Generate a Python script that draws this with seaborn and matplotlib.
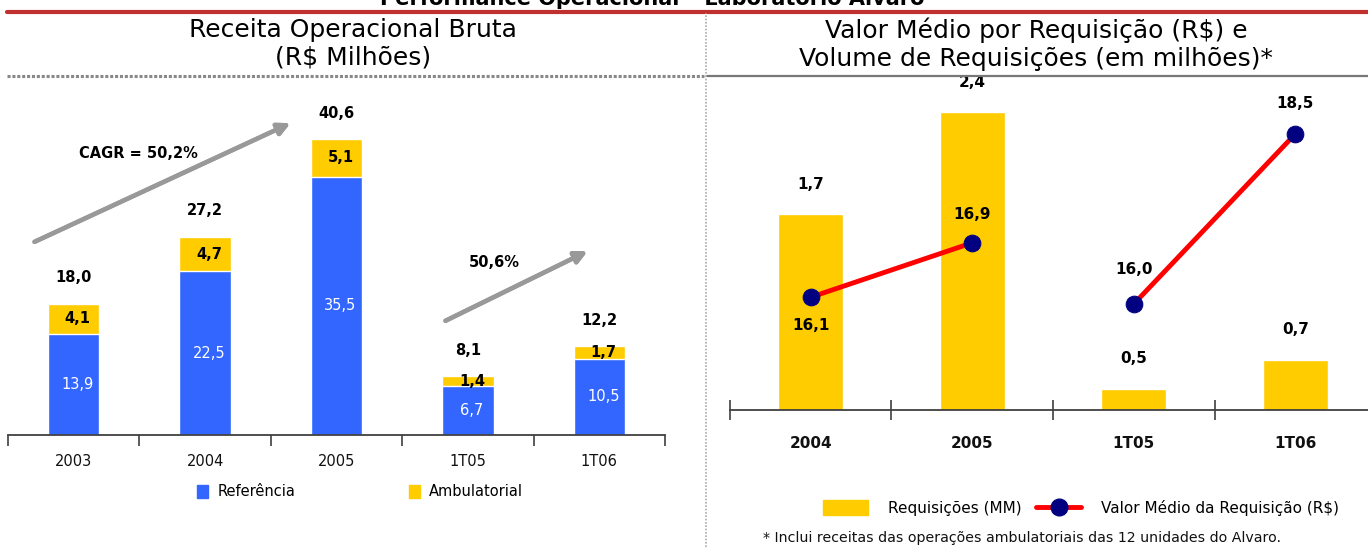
import matplotlib
matplotlib.use("Agg")
import matplotlib.pyplot as plt
import seaborn as sns
import pandas as pd
import numpy as np
from matplotlib.patches import Patch
from matplotlib.lines import Line2D

sns.set_style("white")
plt.rcParams["font.family"] = ["DejaVu Sans"]
plt.rcParams["text.color"] = "black"

# dados - receita operacional bruta (R$ milhoes)
periodos = ["2003", "2004", "2005", "1T05", "1T06"]
referencia = [13.9, 22.5, 35.5, 6.7, 10.5]
ambulatorial = [4.1, 4.7, 5.1, 1.4, 1.7]

# dados - requisicoes e valor medio
periodos_req = ["2004", "2005", "1T05", "1T06"]
requisicoes = [1.7, 2.4, 0.5, 0.7]
valor_medio = [16.1, 16.9, 16.0, 18.5]
segmento = ["ano", "ano", "tri", "tri"]

AZUL = "#3366ff"
AMARELO = "#ffcc00"
W, H = 1368, 547


def fx(px):
    return px / W


def fy(py):
    return 1 - py / H


def br(v):
    return f"{v:.1f}".replace(".", ",")


fig = plt.figure(figsize=(W / 100, H / 100), dpi=100)

# ---- painel esquerdo: barras empilhadas
df = pd.DataFrame({"periodo": periodos, "ref": referencia, "amb": ambulatorial})
df["total"] = df["ref"] + df["amb"]

ax = fig.add_axes([fx(8), fy(435), fx(657), 355 / H])
sns.barplot(data=df, x="periodo", y="total", color=AMARELO, width=0.39,
            saturation=1, ax=ax)
sns.barplot(data=df, x="periodo", y="ref", color=AZUL, width=0.39,
            saturation=1, ax=ax)
ax.set_xlim(-0.5, len(periodos) - 0.5)
ax.set_ylim(0, 355 / 7.28)
ax.set_xlabel("")
ax.set_ylabel("")
ax.set_yticks([])
for s in ["top", "left", "right"]:
    ax.spines[s].set_visible(False)
ax.spines["bottom"].set_color("#404040")
ax.spines["bottom"].set_linewidth(1.3)
ax.set_xticks(np.arange(len(periodos) + 1) - 0.5, minor=True)
ax.tick_params(axis="x", which="minor", length=8, width=1.2, color="#404040",
               direction="out", bottom=True)
ax.tick_params(axis="x", which="major", length=0, pad=14, labelsize=10.5,
               labelcolor="#111111")

for i, row in df.iterrows():
    ax.text(i + 0.03, row["ref"] / 2, br(row["ref"]), ha="center", va="center",
            color="white", fontsize=10.5)
    ax.text(i + 0.03, row["ref"] + row["amb"] / 2, br(row["amb"]), ha="center",
            va="center", color="black", fontsize=10.5, fontweight="bold")
    ax.annotate(br(row["total"]), (i, row["total"]), xytext=(0, 26),
                textcoords="offset pixels", ha="center", va="center",
                fontsize=10.5, fontweight="bold")

# setas de crescimento
seta = dict(arrowstyle="-|>", color="#999999", lw=3.2, mutation_scale=18)
fig.add_artist(plt.annotate("", xy=(fx(293), fy(122)), xytext=(fx(32), fy(243)),
                            xycoords="figure fraction", arrowprops=seta))
fig.add_artist(plt.annotate("", xy=(fx(590), fy(250)), xytext=(fx(443), fy(322)),
                            xycoords="figure fraction", arrowprops=seta))
fig.text(fx(138), fy(153), "CAGR = 50,2%", ha="center", va="center",
         fontsize=10.5, fontweight="bold")
fig.text(fx(494), fy(263), "50,6%", ha="center", va="center",
         fontsize=10.5, fontweight="bold")

fig.legend(handles=[Patch(color=AZUL), Patch(color=AMARELO)],
           labels=["Referência", "Ambulatorial"], ncol=2, loc="center",
           bbox_to_anchor=(fx(360), fy(492)), frameon=False, fontsize=10.5,
           handlelength=0.8, handleheight=1.0, handletextpad=0.6,
           columnspacing=7.8)

# ---- painel direito: requisicoes + valor medio
dr = pd.DataFrame({"periodo": periodos_req, "req": requisicoes,
                   "valor": valor_medio, "seg": segmento})
dr["pos"] = np.arange(len(dr))

axr = fig.add_axes([fx(730), fy(410), fx(646), 330 / H])
sns.barplot(data=dr, x="periodo", y="req", color=AMARELO, width=0.4,
            saturation=1, ax=axr)
axr.set_xlim(-0.5, len(periodos_req) - 0.5)
axr.set_ylim(0.355, 0.355 + 330 / 145.7)
axr.set_xlabel("")
axr.set_ylabel("")
axr.set_yticks([])
for s in ["top", "left", "right"]:
    axr.spines[s].set_visible(False)
axr.spines["bottom"].set_color("#404040")
axr.spines["bottom"].set_linewidth(1.3)
axr.set_xticks(np.arange(len(periodos_req) + 1) - 0.5, minor=True)
axr.tick_params(axis="x", which="minor", length=14, width=1.2, color="#404040",
                direction="inout", bottom=True)
axr.tick_params(axis="x", which="major", length=0, pad=19, labelsize=11,
                labelcolor="#111111")
for lab in axr.get_xticklabels():
    lab.set_fontweight("bold")

for i, row in dr.iterrows():
    axr.annotate(br(row["req"]), (i, row["req"]), xytext=(0, 30),
                 textcoords="offset pixels", ha="center", va="center",
                 fontsize=11, fontweight="bold")

ax2 = axr.twinx()
for seg, grupo in dr.groupby("seg"):
    sns.lineplot(data=grupo, x="pos", y="valor", color="#ff0000", linewidth=3.5,
                 marker="o", markersize=12, markerfacecolor="#000080",
                 markeredgecolor="#000080", ax=ax2)
ax2.set_ylim(18.5 - 276 / 68, 18.5 + 54 / 68)
ax2.set_xlim(-0.5, len(periodos_req) - 0.5)
ax2.set_yticks([])
ax2.set_ylabel("")
ax2.set_xlabel("")
for s in ax2.spines.values():
    s.set_visible(False)

desloc = [-28, 28, 35, 31]
for i, row in dr.iterrows():
    ax2.annotate(br(row["valor"]), (row["pos"], row["valor"]),
                 xytext=(0, desloc[i]), textcoords="offset pixels",
                 ha="center", va="center", fontsize=11, fontweight="bold")

fig.legend(handles=[Patch(color=AMARELO),
                    Line2D([], [], color="#ff0000", lw=3.5, marker="o",
                           markersize=12, markerfacecolor="#000080",
                           markeredgecolor="#000080")],
           labels=["Requisições (MM)", "Valor Médio da Requisição (R$)"],
           ncol=2, loc="center", bbox_to_anchor=(fx(1081), fy(508)),
           frameon=False, fontsize=11, handlelength=2.9, handleheight=1.1,
           handletextpad=1.3, columnspacing=1.0)

fig.text(fx(763), fy(538), "* Inclui receitas das operações ambulatoriais das 12 unidades do Alvaro.",
         ha="left", va="center", fontsize=10.2, color="#111111")

# ---- titulos e linhas de moldura
fig.text(fx(652), fy(5), "Performance Operacional – Laboratório Alvaro",
         ha="center", va="baseline", fontsize=15, fontweight="bold")
fig.add_artist(Line2D([fx(7), 1], [fy(11.5), fy(11.5)], color="#c0302f", lw=3))
fig.text(fx(353), fy(44), "Receita Operacional Bruta\n(R$ Milhões)",
         ha="center", va="center", fontsize=18, linespacing=1.2)
fig.text(fx(1036), fy(44),
         "Valor Médio por Requisição (R$) e\nVolume de Requisições (em milhões)*",
         ha="center", va="center", fontsize=18, linespacing=1.2)
fig.add_artist(Line2D([fx(7), fx(704)], [fy(76), fy(76)], color="#888888",
                      lw=2.2, linestyle=(0, (1, 0.6))))
fig.add_artist(Line2D([fx(707), 1], [fy(76), fy(76)], color="#777777", lw=1.6))
fig.add_artist(Line2D([fx(706), fx(706)], [0, fy(13)], color="#aaaaaa",
                      lw=1.2, linestyle=(0, (1, 1))))

fig.savefig("out.png", dpi=100)
